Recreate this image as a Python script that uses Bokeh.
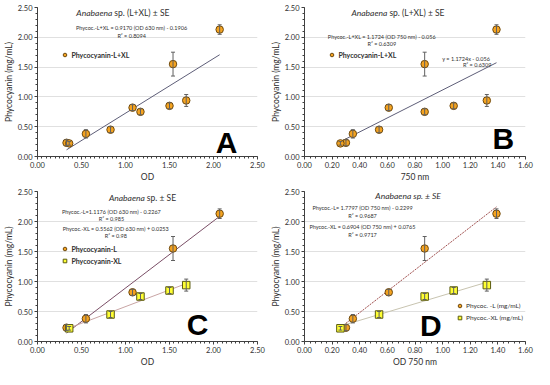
import numpy as np
from bokeh.plotting import figure
from bokeh.models import (ColumnDataSource, Whisker, TeeHead, Label, Legend, LegendItem,
                          NumeralTickFormatter, SingleIntervalTicker, Range1d)
from bokeh.layouts import gridplot
from bokeh.embed import file_html
from bokeh.resources import INLINE

# ---------------- data ----------------
od630_L = [0.33, 0.55, 1.08, 1.54, 2.07]
od750_L = [0.30, 0.35, 0.61, 0.87, 1.39]
phyc_L = [0.23, 0.38, 0.82, 1.55, 2.13]
se_L = [0.05, 0.07, 0.05, 0.20, 0.08]

od630_XL = [0.36, 0.83, 1.17, 1.50, 1.69]
od750_XL = [0.26, 0.54, 0.87, 1.08, 1.32]
phyc_XL = [0.22, 0.45, 0.75, 0.85, 0.94]
se_XL = [0.03, 0.05, 0.05, 0.05, 0.10]

# trend line coefficients (slope, intercept) as printed on the chart
fit_A = (0.9170, -0.1906)
fit_B = (1.1724, -0.056)
fit_C_L = (1.1176, -0.2267)
fit_C_XL = (0.5562, 0.0253)
fit_D_L = (1.7797, -0.2299)
fit_D_XL = (0.6904, 0.0765)

eq_A = ["Phycoc.-L+XL = 0.9170 (OD 630 nm) - 0.1906", "R² = 0.8094"]
eq_B = ["Phycoc.-L+XL = 1.1724 (OD 750 nm) - 0.056", "R² = 0.6309"]
eq_B2 = ["y = 1.1724x - 0.056", "R² = 0.6309"]
eq_C = ["Phycoc.-L=1.1176 (OD 630 nm) - 0.2267", "R² = 0.985",
        "Phycoc.-XL = 0.5562 (OD 630 nm) + 0.0253", "R² = 0.98"]
eq_D = ["Phycoc.-L= 1.7797 (OD 750 nm) - 0.2299", "R² = 0.9687",
        "Phycoc.-XL = 0.6904 (OD 750 nm) + 0.0765", "R² = 0.9717"]

FONT = "Lato"
ORANGE = "#F5A31F"
ORANGE_EDGE = "#6E4A10"
YELLOW = "#FFFF33"
YELLOW_EDGE = "#5A5A10"
ERR = "#606060"


def panel(w, h, xmax, xstep, xminor, left, right, top, bottom, xlabel):
    p = figure(width=w, height=h, x_range=Range1d(0, xmax), y_range=Range1d(0, 2.5),
               output_backend="svg", toolbar_location=None,
               min_border_left=left, min_border_right=right,
               min_border_top=top, min_border_bottom=bottom)
    p.outline_line_color = None
    p.background_fill_color = "white"
    p.xgrid.visible = False
    p.ygrid.grid_line_color = "#e0e0e0"
    p.ygrid.grid_line_width = 1
    p.xaxis.ticker = SingleIntervalTicker(interval=xstep, num_minor_ticks=xminor)
    p.yaxis.ticker = SingleIntervalTicker(interval=0.5, num_minor_ticks=5)
    for ax in (p.xaxis[0], p.yaxis[0]):
        ax.formatter = NumeralTickFormatter(format="0.00")
        ax.axis_line_color = "#404040"
        ax.major_tick_line_color = "#404040"
        ax.minor_tick_line_color = "#404040"
        ax.major_tick_out = 3
        ax.major_tick_in = 0
        ax.minor_tick_out = 2
        ax.minor_tick_in = 0
        ax.major_label_text_font = FONT
        ax.major_label_text_font_size = "7.5px"
        ax.major_label_text_color = "#303030"
        ax.major_label_standoff = 2
        ax.axis_label_text_font = FONT
        ax.axis_label_text_font_size = "8.5px"
        ax.axis_label_text_font_style = "normal"
        ax.axis_label_text_color = "#303030"
        ax.axis_label_standoff = 1
    p.xaxis.axis_label = xlabel
    p.yaxis.axis_label = "Phycocyanin (mg/mL)"
    return p


def add_series(p, xs, ys, se, marker, fill, edge):
    src = ColumnDataSource(dict(x=xs, y=ys,
                                upper=[a + b for a, b in zip(ys, se)],
                                lower=[a - b for a, b in zip(ys, se)]))
    wh = Whisker(source=src, base="x", upper="upper", lower="lower",
                 line_color=ERR, line_width=1,
                 upper_head=TeeHead(size=4, line_color=ERR, line_width=1),
                 lower_head=TeeHead(size=4, line_color=ERR, line_width=1))
    wh.level = "glyph"
    p.add_layout(wh)
    r = p.scatter("x", "y", source=src, marker=marker, size=7.5,
                  fill_color=fill, line_color=edge, line_width=1)
    return r


def add_trend(p, xs, fit, color, dash="solid", width=1.0):
    x0, x1 = min(xs), max(xs)
    p.line([x0, x1], [fit[0] * x0 + fit[1], fit[0] * x1 + fit[1]],
           line_color=color, line_width=width, line_dash=dash)


def text(p, x, y, t, size="5.5px", align="center", style="normal", color="#303030", font=FONT):
    p.add_layout(Label(x=x, y=y, text=t, text_font=font, text_font_size=size,
                       text_align=align, text_baseline="middle", text_font_style=style,
                       text_color=color))


def title(p, xsplit, y, italic, rest):
    text(p, xsplit, y, italic, size="8.5px", align="right", style="italic")
    if rest:
        p.add_layout(Label(x=xsplit, y=y, x_offset=2, text=rest, text_font=FONT,
                           text_font_size="8.5px", text_align="left",
                           text_baseline="middle", text_color="#303030"))


def legend(p, items, fx, fy, w, left, right, h, top, bottom, xmax, bold=True,
           spacing=3, size="7px"):
    fw = w - left - right
    fh = h - top - bottom
    lg = Legend(items=[LegendItem(label=l, renderers=[r]) for l, r in items],
                location=(fx / xmax * fw - 5, fy / 2.5 * fh - 5),
                background_fill_alpha=0, border_line_alpha=0,
                label_text_font=FONT, label_text_font_size=size,
                label_text_font_style="bold" if bold else "normal",
                label_text_color="#303030",
                glyph_width=9, glyph_height=9, label_height=9, label_standoff=2,
                padding=0, margin=0, spacing=spacing)
    p.add_layout(lg)


def letter(p, x, y, t):
    text(p, x, y, t, size="30px", style="bold", color="black", font="Liberation Sans")


W = 267
H1, H2 = 184, 185

# ---------- Panel A ----------
LA, RA, TA, BA = 35, 10, 7, 24
pA = panel(W, H1, 2.5, 0.5, 10, LA, RA, TA, BA, "OD")
allx630 = od630_L + od630_XL
ally = phyc_L + phyc_XL
allse = se_L + se_XL
add_trend(pA, allx630, fit_A, "#5E5E78")
rA = add_series(pA, allx630, ally, allse, "circle", ORANGE, ORANGE_EDGE)
title(pA, 0.85, 2.41, "Anabaena", "sp. (L+XL) ± SE")
text(pA, 1.07, 2.16, eq_A[0])
text(pA, 1.07, 2.03, eq_A[1])
legend(pA, [("Phycocyanin-L+XL", rA)], 0.32, 1.66, W, LA, RA, H1, TA, BA, 2.5)
letter(pA, 2.15, 0.23, "A")

# ---------- Panel B ----------
LB, RB, TB, BB = 31, 9, 7, 24
pB = panel(W, H1, 1.6, 0.2, 5, LB, RB, TB, BB, "750 nm")
allx750 = od750_L + od750_XL
add_trend(pB, allx750, fit_B, "#5E5E78")
rB = add_series(pB, allx750, ally, allse, "circle", ORANGE, ORANGE_EDGE)
title(pB, 0.60, 2.41, "Anabaena", "sp. (L+XL) ± SE")
text(pB, 0.56, 2.00, eq_B[0])
text(pB, 0.56, 1.88, eq_B[1])
text(pB, 1.17, 1.64, eq_B2[0])
text(pB, 1.25, 1.53, eq_B2[1])
legend(pB, [("Phycocyanin-L+XL", rB)], 0.20, 1.66, W, LB, RB, H1, TB, BB, 1.6)
letter(pB, 1.44, 0.31, "B")

# ---------- Panel C ----------
LC, RC, TC, BC = 35, 10, 7, 25
pC = panel(W, H2, 2.5, 0.5, 10, LC, RC, TC, BC, "OD")
add_trend(pC, od630_L, fit_C_L, "#7A4E66")
add_trend(pC, od630_XL, fit_C_XL, "#C9A5A5")
rCL = add_series(pC, od630_L, phyc_L, se_L, "circle", ORANGE, ORANGE_EDGE)
rCX = add_series(pC, od630_XL, phyc_XL, se_XL, "square", YELLOW, YELLOW_EDGE)
title(pC, 1.22, 2.40, "Anabaena", "sp. ± SE")
text(pC, 0.84, 2.16, eq_C[0])
text(pC, 0.84, 2.04, eq_C[1])
text(pC, 0.89, 1.87, eq_C[2])
text(pC, 0.89, 1.76, eq_C[3])
legend(pC, [("Phycocyanin-L", rCL), ("Phycocyanin-XL", rCX)], 0.32, 1.32, W, LC, RC, H2, TC, BC, 2.5, spacing=3)
letter(pC, 1.82, 0.29, "C")

# ---------- Panel D ----------
LD, RD, TD, BD = 31, 9, 5, 25
pD = panel(W, H2, 1.6, 0.2, 5, LD, RD, TD, BD, "OD 750 nm")
add_trend(pD, od750_L, fit_D_L, "#A0504F", dash="2 1")
add_trend(pD, od750_XL, fit_D_XL, "#C8C4B0")
rDL = add_series(pD, od750_L, phyc_L, se_L, "circle", ORANGE, ORANGE_EDGE)
rDX = add_series(pD, od750_XL, phyc_XL, se_XL, "square", YELLOW, YELLOW_EDGE)
text(pD, 0.75, 2.42, "Anabaena sp. ± SE", size="8.5px", style="italic")
text(pD, 0.42, 2.22, eq_D[0])
text(pD, 0.42, 2.09, eq_D[1])
text(pD, 0.42, 1.91, eq_D[2])
text(pD, 0.42, 1.78, eq_D[3])
legend(pD, [("Phycoc. -L (mg/mL)", rDL), ("Phycoc.-XL (mg/mL)", rDX)], 1.10, 0.39, W, LD, RD, H2, TD, BD, 1.6,
       bold=False, spacing=3, size="6.5px")
letter(pD, 0.915, 0.26, "D")

grid = gridplot([[pA, pB], [pC, pD]], toolbar_location=None)
open("out.html", "w").write(file_html(grid, INLINE))
